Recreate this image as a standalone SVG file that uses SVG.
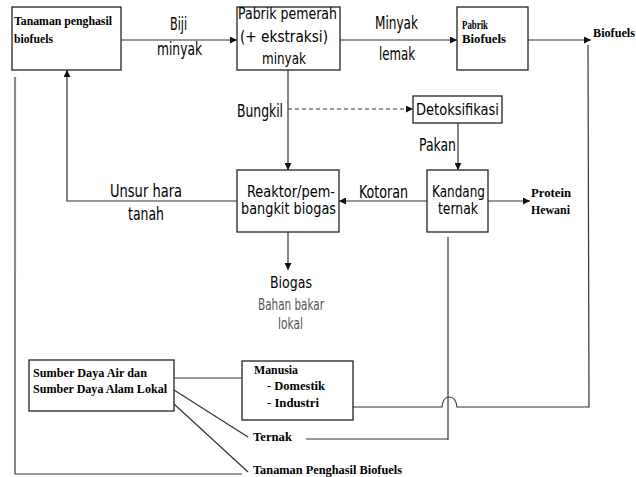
<svg xmlns="http://www.w3.org/2000/svg" width="636" height="477" viewBox="0 0 636 477">
<style>
.bx{fill:#fff;stroke:#222;stroke-width:1.3}
.ln{fill:none;stroke:#333;stroke-width:1.2}
.ar{fill:none;stroke:#333;stroke-width:1.2;marker-end:url(#ah)}
.ss{font-family:"DejaVu Sans Condensed","DejaVu Sans",sans-serif;fill:#000}
.lb{font-size:17px}
.bt{font-size:15px}
.gr{fill:#555}
.sf{font-family:"Liberation Serif","Times New Roman",serif;font-weight:bold;font-size:11.5px;fill:#000}
</style>
<defs>
<marker id="ah" viewBox="0 0 10 10" refX="10" refY="5" markerWidth="7" markerHeight="7" markerUnits="userSpaceOnUse" orient="auto">
<path d="M0,0 L10,5 L0,10 z" fill="#111"/>
</marker>
</defs>
<rect width="636" height="477" fill="#fff"/>

<g id="connectors">
<line class="ar" x1="121" y1="40" x2="237" y2="40"/>
<line class="ar" x1="340" y1="40" x2="457" y2="40"/>
<line class="ar" x1="528" y1="40" x2="591" y2="40"/>
<line class="ar" x1="288" y1="70" x2="288" y2="170"/>
<line class="ar" x1="288" y1="109" x2="413" y2="109" stroke-dasharray="4,3"/>
<line class="ar" x1="458" y1="123" x2="458" y2="170"/>
<line class="ar" x1="427" y1="201" x2="339" y2="201"/>
<line class="ar" x1="488" y1="201" x2="530" y2="201"/>
<line class="ar" x1="288" y1="232" x2="288" y2="270"/>
<polyline class="ar" points="237,201 67,201 67,70"/>
<line x1="15" y1="77" x2="15" y2="273" stroke="#888" stroke-width="2.2"/>
<polyline class="ln" points="15,273 15,474 242,474"/>
<line class="ln" x1="174" y1="378" x2="242" y2="378"/>
<line class="ln" x1="174" y1="390" x2="248" y2="437"/>
<line class="ln" x1="174" y1="404" x2="248" y2="472"/>
<polyline class="ln" points="448,237 448,440"/>
<line class="ln" x1="306" y1="439" x2="448" y2="439"/>
<path class="ln" d="M327,407 L442,407 Q443,397 449,397 Q456,397 457,407 L589,407 L588,45"/>
</g>

<g id="tanaman">
<rect class="bx" x="12" y="7" width="109" height="63"/>
<text class="sf" x="14" y="25" textLength="98" lengthAdjust="spacingAndGlyphs">Tanaman penghasil</text>
<text class="sf" x="14" y="43" textLength="39" lengthAdjust="spacingAndGlyphs">biofuels</text>
</g>

<g id="label-biji">
<text class="ss lb" x="170" y="30" textLength="17" lengthAdjust="spacingAndGlyphs">Biji</text>
<text class="ss lb" x="157" y="55" textLength="45" lengthAdjust="spacingAndGlyphs">minyak</text>
</g>

<g id="pabrik-pemerah">
<rect class="bx" x="237" y="7" width="103" height="63"/>
<text class="ss bt" x="238" y="19" textLength="99" lengthAdjust="spacingAndGlyphs">Pabrik pemerah</text>
<text class="ss bt" x="240" y="42" textLength="88" lengthAdjust="spacingAndGlyphs">(+ ekstraksi)</text>
<text class="ss bt" x="262" y="64" textLength="44" lengthAdjust="spacingAndGlyphs">minyak</text>
</g>

<g id="label-minyak">
<text class="ss lb" x="375" y="29" textLength="43" lengthAdjust="spacingAndGlyphs">Minyak</text>
<text class="ss lb" x="379" y="60" textLength="36" lengthAdjust="spacingAndGlyphs">lemak</text>
</g>

<g id="pabrik-biofuels">
<rect class="bx" x="457" y="7" width="71" height="63"/>
<text class="sf" x="462" y="29" textLength="26" lengthAdjust="spacingAndGlyphs">Pabrik</text>
<text class="sf" x="462" y="43" textLength="44" lengthAdjust="spacingAndGlyphs">Biofuels</text>
</g>

<g id="biofuels">
<text class="sf" x="593" y="37" textLength="42" lengthAdjust="spacingAndGlyphs">Biofuels</text>
</g>

<g id="label-bungkil">
<text class="ss lb" x="237" y="117" textLength="46" lengthAdjust="spacingAndGlyphs">Bungkil</text>
</g>

<g id="detoksifikasi">
<rect class="bx" x="413" y="96" width="89" height="27"/>
<text class="ss bt" x="416" y="115" textLength="83" lengthAdjust="spacingAndGlyphs">Detoksifikasi</text>
</g>

<g id="label-pakan">
<text class="ss lb" x="419" y="151" textLength="37" lengthAdjust="spacingAndGlyphs">Pakan</text>
</g>

<g id="reaktor">
<rect class="bx" x="237" y="170" width="102" height="62"/>
<text class="ss bt" x="247" y="197" textLength="88" lengthAdjust="spacingAndGlyphs">Reaktor/pem-</text>
<text class="ss bt" x="241" y="214" textLength="95" lengthAdjust="spacingAndGlyphs">bangkit biogas</text>
</g>

<g id="kandang">
<rect class="bx" x="427" y="170" width="61" height="62"/>
<text class="ss bt" x="432" y="197" textLength="53" lengthAdjust="spacingAndGlyphs">Kandang</text>
<text class="ss bt" x="438" y="214" textLength="40" lengthAdjust="spacingAndGlyphs">ternak</text>
</g>

<g id="label-kotoran">
<text class="ss lb" x="359" y="198" textLength="49" lengthAdjust="spacingAndGlyphs">Kotoran</text>
</g>

<g id="protein">
<text class="sf" x="531" y="197" textLength="40" lengthAdjust="spacingAndGlyphs">Protein</text>
<text class="sf" x="531" y="214" textLength="39" lengthAdjust="spacingAndGlyphs">Hewani</text>
</g>

<g id="label-unsur">
<text class="ss lb" x="110" y="197" textLength="72" lengthAdjust="spacingAndGlyphs">Unsur hara</text>
<text class="ss lb" x="128" y="220" textLength="36" lengthAdjust="spacingAndGlyphs">tanah</text>
</g>

<g id="biogas">
<text class="ss" font-size="16" x="270" y="288" textLength="42" lengthAdjust="spacingAndGlyphs">Biogas</text>
<text class="ss gr" font-size="16" x="258" y="310" textLength="66" lengthAdjust="spacingAndGlyphs">Bahan bakar</text>
<text class="ss gr" font-size="16" x="278" y="329" textLength="25" lengthAdjust="spacingAndGlyphs">lokal</text>
</g>

<g id="sumber-daya">
<rect class="bx" x="29" y="360" width="145" height="51"/>
<text class="sf" x="33" y="377" textLength="114" lengthAdjust="spacingAndGlyphs">Sumber Daya Air dan</text>
<text class="sf" x="33" y="393" textLength="134" lengthAdjust="spacingAndGlyphs">Sumber Daya Alam Lokal</text>
</g>

<g id="manusia">
<rect class="bx" x="242" y="361" width="111" height="59"/>
<text class="sf" x="254" y="374" textLength="44" lengthAdjust="spacingAndGlyphs">Manusia</text>
<text class="sf" x="267" y="390" textLength="58" lengthAdjust="spacingAndGlyphs">- Domestik</text>
<text class="sf" x="267" y="407" textLength="52" lengthAdjust="spacingAndGlyphs">- Industri</text>
</g>

<g id="ternak">
<text class="sf" x="253" y="441" textLength="39" lengthAdjust="spacingAndGlyphs">Ternak</text>
</g>

<g id="tanaman-penghasil">
<text class="sf" x="253" y="474" textLength="149" lengthAdjust="spacingAndGlyphs">Tanaman Penghasil Biofuels</text>
</g>
</svg>
